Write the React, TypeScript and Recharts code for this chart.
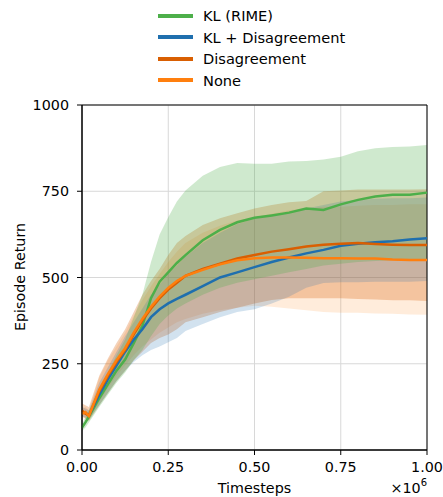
import React from "react";
import {
  ComposedChart,
  Area,
  Line,
  XAxis,
  YAxis,
  CartesianGrid,
  ReferenceArea,
  Label,
} from "recharts";

// timesteps in units of 1e6
const timesteps = [
  0, 0.01, 0.02, 0.05, 0.075, 0.1, 0.125, 0.15, 0.175, 0.2, 0.225, 0.25, 0.275,
  0.3, 0.35, 0.4, 0.45, 0.5, 0.55, 0.6, 0.65, 0.7, 0.75, 0.8, 0.85, 0.9, 0.95, 1.0,
];

const klRime = [
  65, 80, 97, 150, 190, 230, 262, 310, 360, 440, 488, 515, 542, 565, 608, 638,
  660, 673, 680, 688, 700, 696, 712, 725, 735, 740, 740, 746,
];
const klRimeHigh = [
  75, 95, 115, 175, 225, 275, 320, 385, 450, 545, 625, 675, 720, 752, 795, 820,
  832, 830, 830, 836, 838, 842, 850, 866, 875, 878, 880, 884,
];
const klRimeLow = [
  55, 65, 80, 125, 160, 195, 225, 260, 290, 330, 365, 390, 410, 425, 450, 470,
  485, 495, 505, 515, 525, 535, 540, 545, 548, 550, 550, 552,
];

const klDis = [
  110, 108, 100, 160, 205, 245, 285, 320, 350, 385, 408, 425, 438, 450, 475, 500,
  515, 530, 545, 558, 570, 580, 592, 598, 602, 605, 610, 614,
];
const klDisHigh = [
  125, 120, 115, 195, 240, 285, 330, 370, 410, 450, 480, 510, 535, 560, 600, 630,
  655, 670, 680, 690, 700, 710, 720, 725, 728, 730, 730, 732,
];
const klDisLow = [
  95, 95, 88, 130, 165, 200, 230, 255, 275, 290, 300, 312, 325, 345, 365, 385,
  400, 408, 425, 444, 470, 484, 486, 486, 488, 488, 488, 490,
];

const dis = [
  115, 105, 100, 170, 215, 255, 290, 335, 375, 410, 440, 465, 485, 505, 525, 540,
  555, 565, 575, 582, 590, 595, 598, 600, 597, 595, 594, 594,
];
const disHigh = [
  135, 130, 125, 215, 265, 310, 350, 400, 450, 490, 525, 565, 600, 620, 652, 672,
  686, 700, 710, 718, 722, 750, 752, 755, 755, 755, 755, 756,
];
const disLow = [
  100, 90, 85, 130, 165, 200, 230, 260, 285, 310, 325, 335, 350, 370, 385, 400,
  412, 425, 435, 440, 440, 440, 440, 438, 436, 434, 434, 432,
];

const none = [
  105, 110, 98, 175, 220, 260, 295, 340, 380, 415, 445, 470, 490, 505, 522, 538,
  550, 556, 558, 558, 557, 556, 556, 555, 555, 552, 551, 551,
];
const noneHigh = [
  120, 125, 115, 210, 260, 300, 340, 390, 435, 475, 510, 545, 575, 600, 630, 650,
  665, 675, 685, 695, 700, 705, 705, 708, 710, 710, 712, 712,
];
const noneLow = [
  90, 95, 85, 140, 180, 215, 245, 275, 300, 320, 340, 355, 370, 380, 395, 405,
  412, 418, 415, 410, 405, 400, 398, 398, 396, 395, 393, 392,
];

const xTicks = [0, 0.25, 0.5, 0.75, 1];
const yTicks = [0, 250, 500, 750, 1000];

const series = [
  { name: "KL (RIME)", key: "klRime", color: "#4daf4a", band: 0.27 },
  { name: "KL + Disagreement", key: "klDis", color: "#1f6fae", band: 0.2 },
  { name: "Disagreement", key: "dis", color: "#d95f02", band: 0.28 },
  { name: "None", key: "none", color: "#ff7f0e", band: 0.15 },
];

// bands drawn in reverse so the green one sits on top, as in the source figure
const bandOrder = [...series].reverse();

const data = timesteps.map((t, i) => ({
  t,
  klRime: klRime[i],
  klRimeBand: [klRimeLow[i], klRimeHigh[i]],
  klDis: klDis[i],
  klDisBand: [klDisLow[i], klDisHigh[i]],
  dis: dis[i],
  disBand: [disLow[i], disHigh[i]],
  none: none[i],
  noneBand: [noneLow[i], noneHigh[i]],
}));

const FONT = "DejaVu Sans, sans-serif";

const LegendBox = () => (
  <div style={{ position: "absolute", left: 158, top: 5, fontFamily: FONT, fontSize: 14.6 }}>
    {series.map((s) => (
      <div key={s.key} style={{ display: "flex", alignItems: "center", height: 21.5 }}>
        <div style={{ width: 35, height: 4, background: s.color, marginRight: 10 }} />
        <span style={{ color: "#000" }}>{s.name}</span>
      </div>
    ))}
  </div>
);

export default function App() {
  return (
    <div style={{ position: "absolute", left: 0, top: 0, width: 443, height: 497, background: "#fff" }}>
      <ComposedChart
        width={443}
        height={497}
        data={data}
        margin={{ top: 105, right: 16, left: 0, bottom: 0 }}
      >
        <CartesianGrid stroke="#d8d8d8" strokeWidth={1} />
        <XAxis
          dataKey="t"
          type="number"
          domain={[0, 1]}
          ticks={xTicks}
          tickFormatter={(v: number) => v.toFixed(2)}
          height={47}
          tickSize={5}
          tickMargin={7}
          stroke="#000"
          tick={{ fill: "#000", fontSize: 14.3, fontFamily: FONT }}
        >
          <Label
            content={() => (
              <text x={254.5} y={493} textAnchor="middle" fontSize={14.3} fontFamily={FONT} fill="#000">
                Timesteps
              </text>
            )}
          />
          <Label
            content={() => (
              <text x={427} y={493} textAnchor="end" fontSize={14.3} fontFamily={FONT} fill="#000">
                ×10
                <tspan dy={-7} fontSize={10}>
                  6
                </tspan>
              </text>
            )}
          />
        </XAxis>
        <YAxis
          type="number"
          domain={[0, 1000]}
          ticks={yTicks}
          width={82}
          tickSize={5}
          tickMargin={8}
          stroke="#000"
          tick={{ fill: "#000", fontSize: 14.3, fontFamily: FONT }}
        >
          <Label
            content={() => (
              <text
                x={25}
                y={277}
                transform="rotate(-90 25 277)"
                textAnchor="middle"
                fontSize={14.3}
                fontFamily={FONT}
                fill="#000"
              >
                Episode Return
              </text>
            )}
          />
        </YAxis>

        {bandOrder.map((s) => (
          <Area
            key={s.key + "Band"}
            dataKey={s.key + "Band"}
            type="linear"
            stroke="none"
            fill={s.color}
            fillOpacity={s.band}
            isAnimationActive={false}
          />
        ))}
        {series.map((s) => (
          <Line
            key={s.key}
            dataKey={s.key}
            type="linear"
            stroke={s.color}
            strokeWidth={2.5}
            dot={false}
            isAnimationActive={false}
          />
        ))}
        <ReferenceArea x1={0} x2={1} y1={0} y2={1000} fill="none" stroke="#000" strokeWidth={1} />
      </ComposedChart>
      <LegendBox />
    </div>
  );
}
